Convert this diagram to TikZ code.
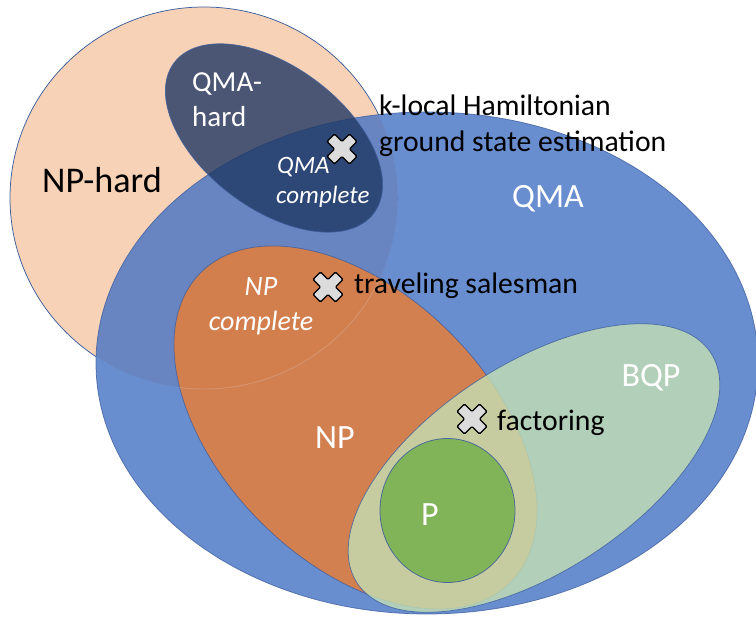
\documentclass[tikz,border=0pt]{standalone}
\usepackage{fontspec}
\setmainfont{Carlito}
\definecolor{peach}{HTML}{F8D2B6}
\definecolor{qmablue}{HTML}{4472C4}
\definecolor{navy}{HTML}{1F3864}
\definecolor{npor}{HTML}{ED7D31}
\definecolor{bqpgreen}{HTML}{C5E0B4}
\definecolor{pgreen}{HTML}{70AD47}
\definecolor{edge}{HTML}{3E5F9E}
\definecolor{markgray}{HTML}{DCDCDC}
\begin{document}
\begin{tikzpicture}[x=1pt,y=-1pt,
  region/.style={draw=edge, line width=0.75pt},
  inlbl/.style={text=white, inner sep=0pt, anchor=base, font=\fontsize{34}{40}\selectfont},
  note/.style={text=black, inner sep=0pt, anchor=base west, font=\fontsize{29.7}{36}\selectfont},
  xmark/.pic={
    \filldraw[fill=markgray, draw=black, line width=1.3pt, rounded corners=1.2pt, rotate=45]
      (5.3,5.3) -- (15.9,5.3) -- (15.9,-5.3) -- (5.3,-5.3) -- (5.3,-15.9) -- (-5.3,-15.9)
      -- (-5.3,-5.3) -- (-15.9,-5.3) -- (-15.9,5.3) -- (-5.3,5.3) -- (-5.3,15.9) -- (5.3,15.9) -- cycle;
  }]
\useasboundingbox (0,0) rectangle (756,618);
\clip (0,0) rectangle (756,618);

% NP-hard
\path[region, fill=peach] (204,198) ellipse [x radius=194, y radius=191];
% QMA
\path[region, fill=qmablue, fill opacity=0.8, draw opacity=0.8] (427,363) ellipse [x radius=331, y radius=251];
% QMA-hard
\path[region, fill=navy, fill opacity=0.8, draw opacity=0.8, rotate around={-37:(274,138)}]
  (274,138) ellipse [x radius=125, y radius=71];
% NP
\path[region, fill=npor, fill opacity=0.8, draw opacity=0.8, rotate around={-45:(355.5,427.5)}]
  (355.5,427.5) ellipse [x radius=219, y radius=134];
% faint trace of the NP-hard border inside QMA
\begin{scope}
  \clip (427,363) ellipse [x radius=331, y radius=251];
  \draw[white, opacity=0.2, line width=0.9pt] (204,198) ellipse [x radius=194, y radius=191];
\end{scope}
% BQP
\path[region, fill=bqpgreen, fill opacity=0.8, draw opacity=0.8, rotate around={33:(534,468)}]
  (534,468) ellipse [x radius=211, y radius=104];
% P
\path[region, fill=pgreen, fill opacity=0.8, draw opacity=0.9] (447.5,510.5) ellipse [x radius=67.5, y radius=72];

% region labels
\node[inlbl, text=black, font=\fontsize{36.2}{40}\selectfont] (nphard) at (102,192) {NP-hard};
\node[inlbl] (qma) at (548,207) {QMA};
\node[inlbl] (bqp) at (651,386) {BQP};
\node[inlbl] (np) at (335,448) {NP};
\node[inlbl] (p) at (430,525) {P};
\node[inlbl, anchor=base west, font=\fontsize{29}{36}\selectfont] (qmah1) at (192,92) {QMA-};
\node[inlbl, anchor=base west, font=\fontsize{29}{36}\selectfont] (qmah2) at (192,127) {hard};
\node[inlbl, anchor=base west, font=\fontsize{25}{30}\selectfont\itshape] (qmac1) at (277,173) {QMA};
\node[inlbl, anchor=base west, font=\fontsize{25}{30}\selectfont\itshape] (qmac2) at (276,203) {complete};
\node[inlbl, font=\fontsize{28}{34}\selectfont\itshape] (npc1) at (261,295) {NP};
\node[inlbl, font=\fontsize{28}{34}\selectfont\itshape] (npc2) at (261,330) {complete};

% example problems
\pic at (342,149) {xmark};
\pic at (328,287) {xmark};
\pic at (472,419) {xmark};
\node[note] (klocal1) at (379,116) {k-local Hamiltonian};
\node[note] (klocal2) at (379,152) {ground state estimation};
\node[note] (tsp) at (354,293) {traveling salesman};
\node[note] (fact) at (497,430) {factoring};
\end{tikzpicture}
\end{document}
